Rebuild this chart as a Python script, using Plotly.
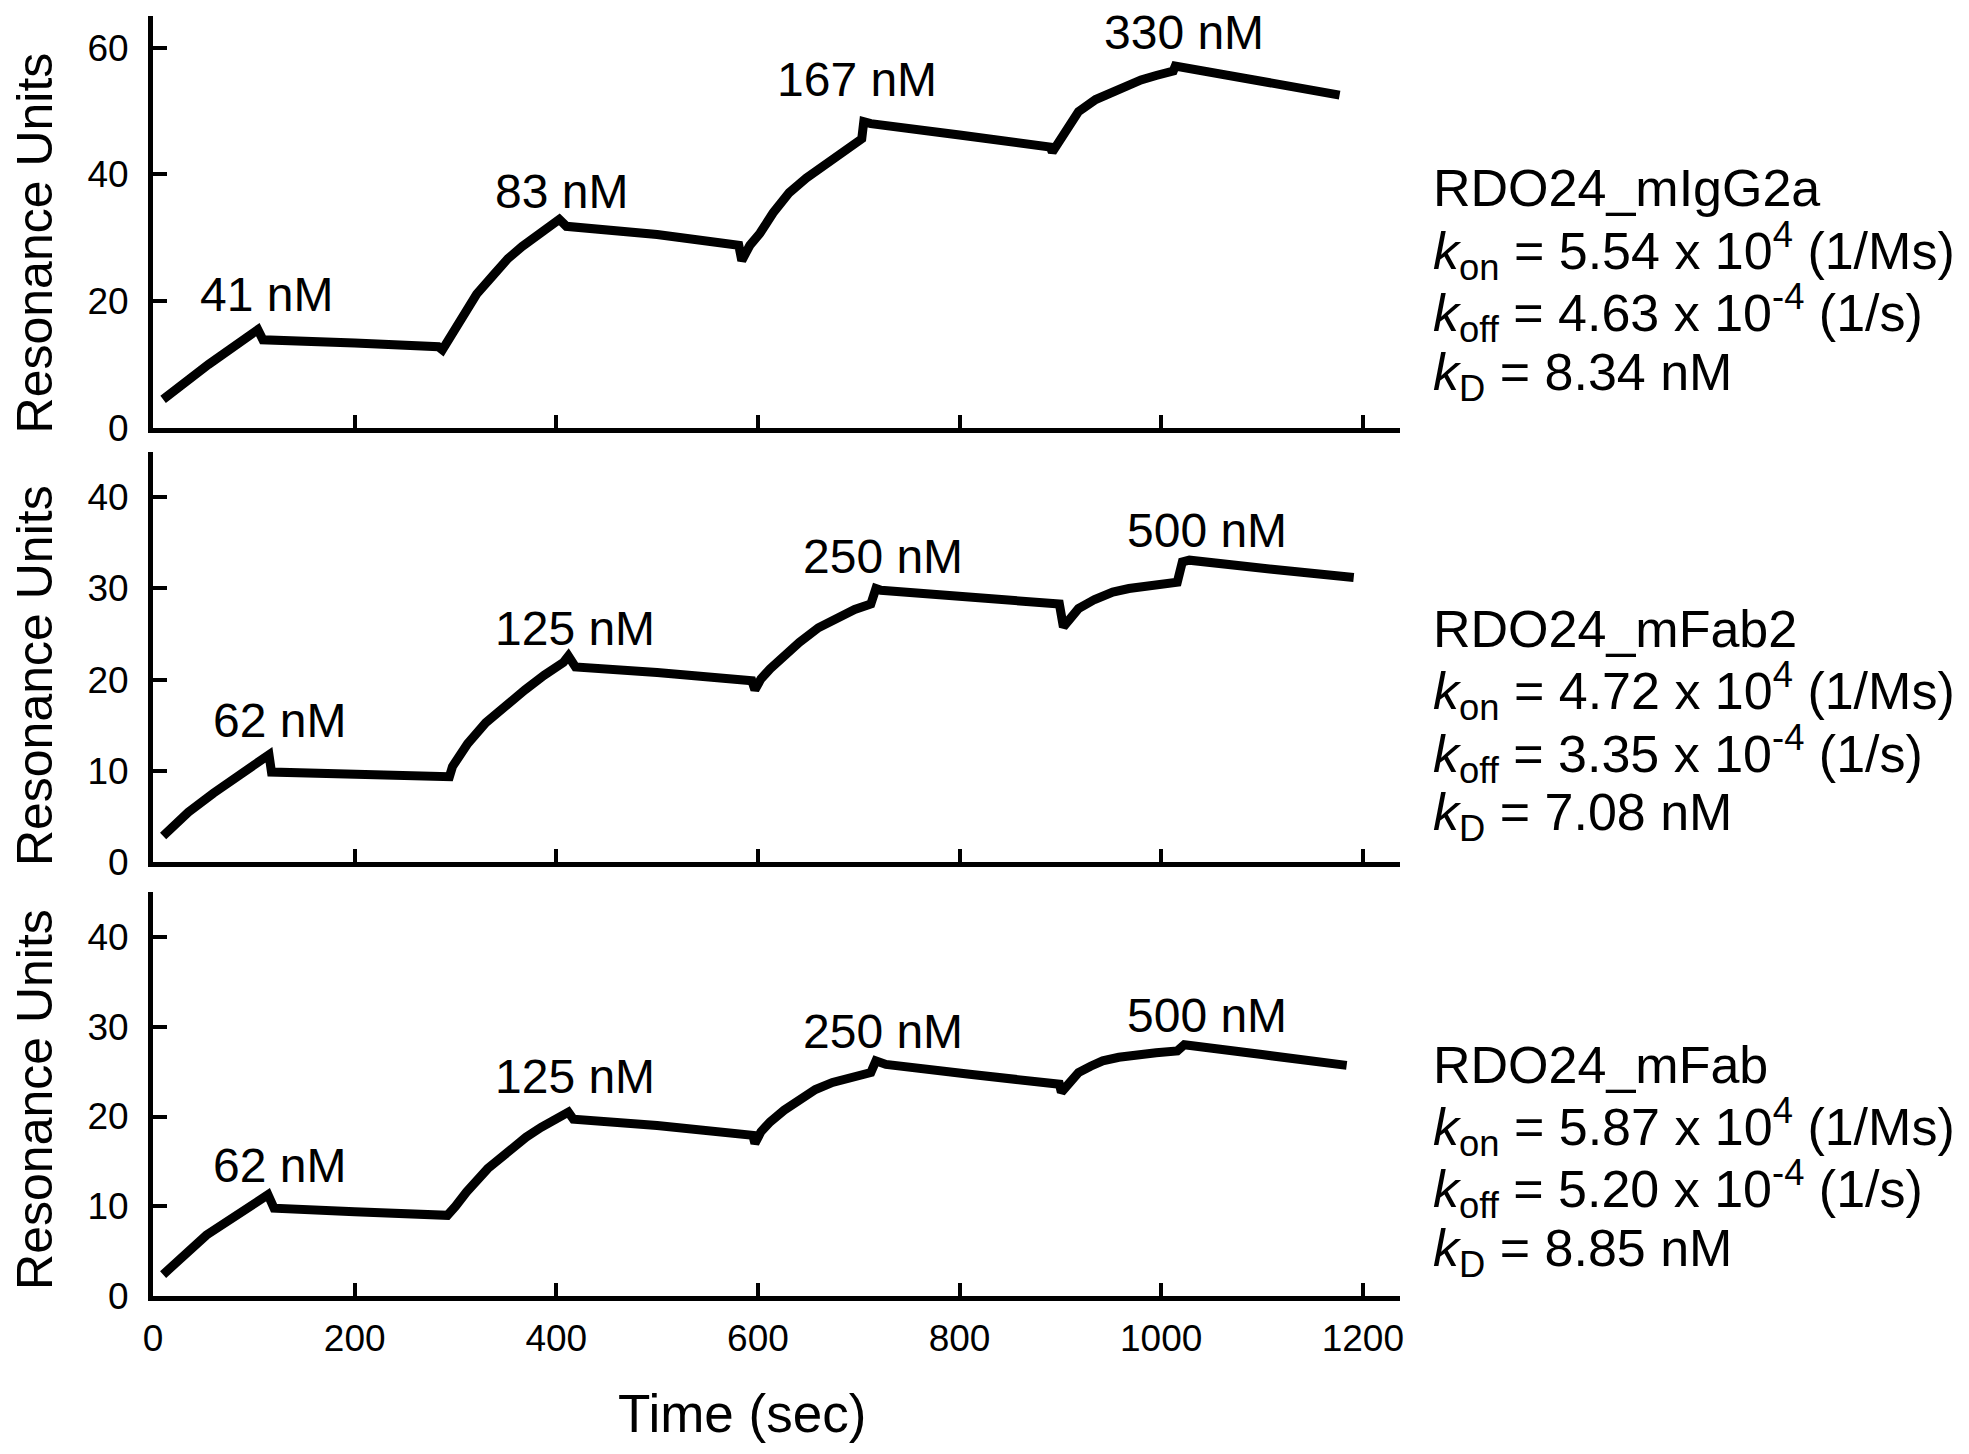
import plotly.graph_objects as go

# sensorgram traces: time (sec) and response (RU)
igg2a_time = [10, 55, 104, 109, 200, 283,
              287, 295, 305, 321, 337, 352, 366, 380, 391, 401, 403, 410, 500, 581,
              584, 592, 602, 615, 631, 648, 665, 682, 698, 703, 705, 712, 800, 890,
              892, 905, 918, 935, 952, 965, 980, 995, 1012, 1014, 1100, 1177]
igg2a_ru = [4.5, 10.0, 15.5, 13.9, 13.4, 12.8,
            12.3, 14.5, 17.4, 21.1, 24.0, 26.7, 28.6, 30.2, 31.4, 32.4, 32.9, 31.8, 30.5, 28.8,
            26.4, 28.8, 30.7, 33.9, 37.1, 39.4, 41.3, 43.3, 45.1, 45.6, 48.3, 48.0, 46.2, 44.3,
            43.5, 47.0, 49.9, 51.8, 53.1, 54.1, 54.9, 55.6, 56.3, 57.1, 54.8, 52.5]

fab2_time = [10, 35, 60, 88, 115, 117.5, 200, 294,
             297, 312, 330, 350, 369, 388, 407, 412, 419, 500, 594,
             597, 603, 612, 626, 641, 660, 679, 696, 712, 717, 722, 810, 899,
             903, 910, 918, 934, 952, 968, 985, 1000, 1016, 1021, 1028, 1110, 1191]
fab2_ru = [2.9, 5.5, 7.6, 9.8, 11.8, 9.9, 9.7, 9.4,
           10.5, 13.0, 15.3, 17.3, 18.9, 20.5, 21.9, 22.6, 21.4, 20.8, 19.9,
           18.9, 20.1, 21.2, 22.7, 24.1, 25.7, 26.9, 27.7, 28.3, 30.0, 29.8, 29.0, 28.3,
           25.8, 26.9, 27.8, 28.8, 29.6, 30.0, 30.3, 30.5, 30.7, 32.9, 33.1, 32.1, 31.2]

fab_time = [10, 53, 114, 120, 200, 292,
            300, 311, 332, 354, 370, 385, 398, 412, 417, 500, 595,
            597, 603, 612, 626, 641, 657, 674, 693, 712, 717, 727, 810, 899,
            901, 909, 918, 930, 942, 958, 976, 995, 1016, 1023, 1100, 1184]
fab_ru = [2.4, 6.8, 11.3, 9.8, 9.4, 9.0,
          10.0, 11.6, 14.2, 16.4, 17.7, 18.8, 19.7, 20.5, 19.7, 19.0, 17.9,
          17.0, 18.3, 19.4, 20.7, 21.9, 23.0, 23.8, 24.4, 24.9, 26.2, 25.8, 24.7, 23.6,
          22.7, 23.9, 24.9, 25.6, 26.2, 26.6, 26.9, 27.1, 27.3, 28.0, 26.9, 25.7]

# analyte concentration injected in each cycle
igg2a_conc = ["41 nM", "83 nM", "167 nM", "330 nM"]
fab2_conc = ["62 nM", "125 nM", "250 nM", "500 nM"]
fab_conc = ["62 nM", "125 nM", "250 nM", "500 nM"]

# label anchor points (time, RU)
igg2a_conc_t = [113, 405, 698, 1023]
igg2a_conc_ru = [21.0, 37.3, 54.9, 62.3]
fab2_conc_t = [125, 419, 724, 1045]
fab2_conc_ru = [15.6, 25.6, 33.5, 36.3]
fab_conc_t = [125, 419, 724, 1045]
fab_conc_ru = [14.6, 24.5, 29.5, 31.2]

# kinetic constants
antibodies = ["RDO24_mIgG2a", "RDO24_mFab2", "RDO24_mFab"]
kon = ["5.54", "4.72", "5.87"]
koff = ["4.63", "3.35", "5.20"]
kd = ["8.34", "7.08", "8.85"]

x_ticks = [0, 200, 400, 600, 800, 1000, 1200]
y_ticks_top = [0, 20, 40, 60]
y_ticks_low = [0, 10, 20, 30, 40]

W, H = 1969, 1454
PAD = 8  # page body margin
FONT = "Arial, Liberation Sans, sans-serif"


def px(x):
    return (x - PAD) / W


def py(y):
    return 1 - (y - PAD) / H


panels = [
    dict(t=igg2a_time, ru=igg2a_ru, conc=igg2a_conc, ct=igg2a_conc_t, cru=igg2a_conc_ru,
         yrange=[0, 65], yticks=y_ticks_top, top=16, bottom=434, title_y=246,
         text_top=191),
    dict(t=fab2_time, ru=fab2_ru, conc=fab2_conc, ct=fab2_conc_t, cru=fab2_conc_ru,
         yrange=[0, 45], yticks=y_ticks_low, top=458, bottom=875, title_y=685,
         text_top=638),
    dict(t=fab_time, ru=fab_ru, conc=fab_conc, ct=fab_conc_t, cru=fab_conc_ru,
         yrange=[0, 45], yticks=y_ticks_low, top=905, bottom=1315, title_y=1115,
         text_top=1080),
]

fig = go.Figure()
annotations = []
layout = {}

for i, p in enumerate(panels):
    n = "" if i == 0 else str(i + 1)
    fig.add_trace(
        go.Scatter(
            x=p["t"], y=p["ru"], mode="lines",
            line=dict(color="black", width=9),
            xaxis="x" + n, yaxis="y" + n, showlegend=False,
        )
    )
    layout["xaxis" + n] = dict(
        domain=[px(144), px(1400)], range=[0, 1237], anchor="y" + n,
        tickvals=x_ticks, ticks="inside", ticklen=13, tickwidth=4, tickcolor="black",
        showline=True, linecolor="black", linewidth=5, showgrid=False, zeroline=False,
        showticklabels=(i == 2), ticklabelstandoff=5,
        tickfont=dict(family=FONT, size=37, color="black"),
    )
    layout["yaxis" + n] = dict(
        domain=[py(p["bottom"]), py(p["top"])], range=p["yrange"], anchor="x" + n,
        tickvals=p["yticks"], ticks="inside", ticklen=14, tickwidth=4, tickcolor="black",
        showline=True, linecolor="black", linewidth=5, showgrid=False, zeroline=False,
        ticklabelstandoff=12,
        tickfont=dict(family=FONT, size=37, color="black"),
    )
    for txt, ct, cru in zip(p["conc"], p["ct"], p["cru"]):
        annotations.append(dict(
            x=ct, y=cru, xref="x" + n, yref="y" + n, text=txt, showarrow=False,
            xanchor="center", yanchor="middle",
            font=dict(family=FONT, size=48, color="black"),
        ))
    annotations.append(dict(
        x=px(25), y=py(p["title_y"]), xref="paper", yref="paper", text="Resonance Units",
        textangle=-90, showarrow=False, xanchor="center", yanchor="middle",
        font=dict(family=FONT, size=50, color="black"),
    ))
    lines = [
        antibodies[i],
        "<i>k</i><sub>on</sub> = %s x 10<sup>4</sup> (1/Ms)" % kon[i],
        "<i>k</i><sub>off</sub> = %s x 10<sup>-4</sup> (1/s)" % koff[i],
        "<i>k</i><sub>D</sub> = %s nM" % kd[i],
    ]
    for j, line in enumerate(lines):
        annotations.append(dict(
            x=px(1431), y=py(p["text_top"] + 63.3 * j), xref="paper", yref="paper",
            text=line, showarrow=False, xanchor="left", yanchor="middle", align="left",
            font=dict(family=FONT, size=52, color="black"),
        ))

annotations.append(dict(
    x=px(737), y=py(1434), xref="paper", yref="paper", text="Time (sec)",
    showarrow=False, xanchor="center", yanchor="middle",
    font=dict(family=FONT, size=53, color="black"),
))

fig.update_layout(
    width=W, height=H,
    margin=dict(l=0, r=0, t=0, b=0),
    paper_bgcolor="white", plot_bgcolor="white",
    annotations=annotations,
    **layout,
)

fig.write_html("out.html")
